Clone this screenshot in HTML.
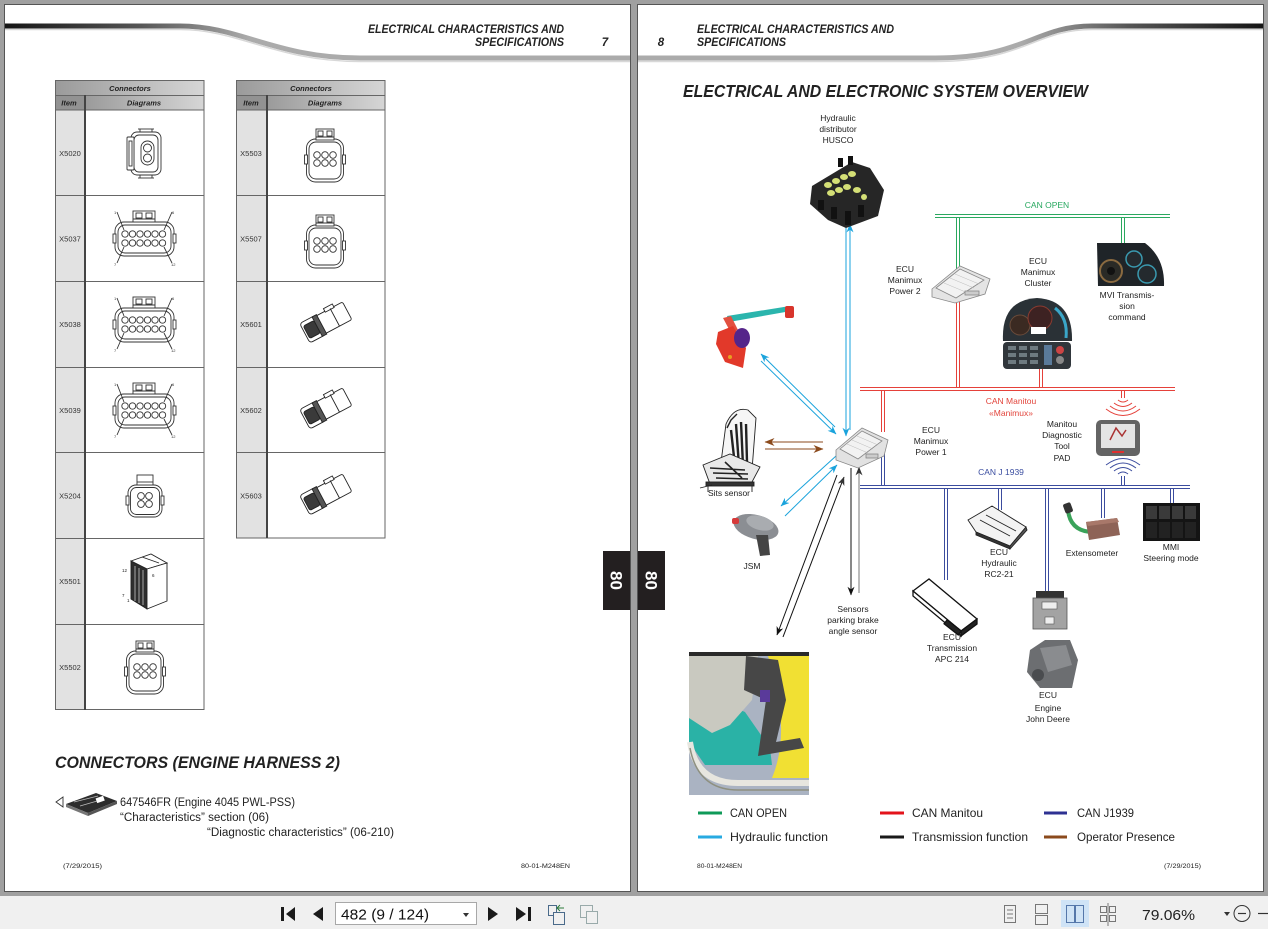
<!DOCTYPE html>
<html><head><meta charset="utf-8"><style>
html,body{margin:0;padding:0;width:1268px;height:929px;overflow:hidden;background:#a0a0a0}
svg{display:block}
text{font-family:"Liberation Sans",sans-serif}
.n{font-family:"Liberation Sans Narrow","Liberation Sans",sans-serif}
</style></head><body>
<svg width="1268" height="929" viewBox="0 0 1268 929" xmlns="http://www.w3.org/2000/svg">
<defs>
<linearGradient id="sw1" gradientUnits="userSpaceOnUse" x1="5" y1="0" x2="250" y2="0"><stop offset="0" stop-color="#151515"/><stop offset="0.55" stop-color="#555"/><stop offset="1" stop-color="#ababab"/></linearGradient>
<linearGradient id="sw2" gradientUnits="userSpaceOnUse" x1="1263" y1="0" x2="1020" y2="0"><stop offset="0" stop-color="#151515"/><stop offset="0.55" stop-color="#555"/><stop offset="1" stop-color="#ababab"/></linearGradient>
<linearGradient id="hd" x1="0" y1="0" x2="1" y2="0"><stop offset="0" stop-color="#9a9a9a"/><stop offset="1" stop-color="#d6d6d6"/></linearGradient>
<marker id="aC" viewBox="0 0 10 8" refX="9.5" refY="4" markerWidth="9" markerHeight="7" markerUnits="userSpaceOnUse" orient="auto"><path d="M0,0 L10,4 L0,8 L3,4z" fill="#1aa3dc"/></marker>
<marker id="aK" viewBox="0 0 10 8" refX="9.5" refY="4" markerWidth="9" markerHeight="7" markerUnits="userSpaceOnUse" orient="auto"><path d="M0,0 L10,4 L0,8 L3,4z" fill="#111"/></marker>
<marker id="aG" viewBox="0 0 10 8" refX="9.5" refY="4" markerWidth="9" markerHeight="7" markerUnits="userSpaceOnUse" orient="auto"><path d="M0,0 L10,4 L0,8 L3,4z" fill="#333"/></marker>
<marker id="aB" viewBox="0 0 10 8" refX="9.5" refY="4" markerWidth="10" markerHeight="8" markerUnits="userSpaceOnUse" orient="auto"><path d="M0,0 L10,4 L0,8 L3,4z" fill="#8b4a1c"/></marker>

<g id="c12" stroke="#333" stroke-width="0.9" fill="none">
 <rect x="-29" y="-16" width="59" height="34" rx="9" fill="#fff"/>
 <rect x="-26" y="-13" width="53" height="28" rx="7"/>
 <rect x="-31" y="-4" width="3" height="9" fill="#fff"/><rect x="29" y="-4" width="3" height="9" fill="#fff"/>
 <rect x="-11" y="-27" width="22" height="11" fill="#fff"/>
 <rect x="-8" y="-25" width="6" height="5"/><rect x="2" y="-25" width="6" height="5"/>
 <line x1="-11" y1="-19" x2="11" y2="-19"/>
 <circle cx="-19" cy="-4" r="3.2"/><circle cx="-11.5" cy="-4" r="3.2"/><circle cx="-4" cy="-4" r="3.2"/><circle cx="3.5" cy="-4" r="3.2"/><circle cx="11" cy="-4" r="3.2"/><circle cx="18.5" cy="-4" r="3.2"/>
 <circle cx="-19" cy="5" r="3.2"/><circle cx="-11.5" cy="5" r="3.2"/><circle cx="-4" cy="5" r="3.2"/><circle cx="3.5" cy="5" r="3.2"/><circle cx="11" cy="5" r="3.2"/><circle cx="18.5" cy="5" r="3.2"/>
 <line x1="-27" y1="-26" x2="-20" y2="-8"/><line x1="28" y1="-26" x2="20" y2="-8"/>
 <line x1="-27" y1="25" x2="-20" y2="9"/><line x1="28" y1="25" x2="20" y2="9"/>
</g>
<g id="c6" stroke="#333" stroke-width="0.9" fill="none">
 <rect x="-18.5" y="-19" width="37" height="43" rx="9" fill="#fff"/>
 <rect x="-16" y="-16" width="32" height="37" rx="7"/>
 <rect x="-20.5" y="-3" width="3" height="9" fill="#fff"/><rect x="17.5" y="-3" width="3" height="9" fill="#fff"/>
 <rect x="-9" y="-29" width="18" height="11" fill="#fff"/>
 <rect x="-7" y="-27" width="5" height="5"/><rect x="2" y="-27" width="5" height="5"/>
 <line x1="-9" y1="-21" x2="9" y2="-21"/>
 <circle cx="-8" cy="-3" r="3.3"/><circle cx="0" cy="-3" r="3.3"/><circle cx="8" cy="-3" r="3.3"/>
 <circle cx="-8" cy="5" r="3.3"/><circle cx="0" cy="5" r="3.3"/><circle cx="8" cy="5" r="3.3"/>
</g>
<g id="plug" stroke="#222" stroke-width="0.9">
 <g transform="rotate(-28)">
 <rect x="-6" y="-10" width="30" height="20" rx="2" fill="#fff"/>
 <rect x="4" y="-13" width="10" height="4" fill="#fff"/>
 <rect x="-24" y="-11" width="18" height="22" rx="3" fill="#fff"/>
 <rect x="-22" y="-7" width="12" height="14" rx="2" fill="#3a3a3a"/>
 <rect x="-10" y="-11" width="5" height="22" fill="#555"/>
 <line x1="10" y1="-10" x2="10" y2="10"/>
 </g>
</g>
</defs>

<!-- pages -->
<rect x="4.5" y="4.5" width="626" height="887" fill="#fff" stroke="#555"/>
<rect x="637.5" y="4.5" width="626" height="887" fill="#fff" stroke="#555"/>

<!-- header swoosh -->
<path d="M5,26 L180,26 C240,26 275,58 360,58 L630,58" fill="none" stroke="url(#sw1)" stroke-width="5"/>
<path d="M5,29.5 L180,29.5 C240,29.5 275,61.5 360,61.5 L630,61.5" fill="none" stroke="#d8d8d8" stroke-width="1.5"/>
<path d="M638,58 L935,58 C1025,58 1035,26 1092,26 L1263,26" fill="none" stroke="url(#sw2)" stroke-width="5"/>
<path d="M638,61.5 L935,61.5 C1025,61.5 1035,29.5 1092,29.5 L1263,29.5" fill="none" stroke="#d8d8d8" stroke-width="1.5"/>

<g font-weight="bold" font-style="italic" font-size="11.5" fill="#222" class="n">
<text class="n" x="368" y="33" textLength="196" lengthAdjust="spacingAndGlyphs">ELECTRICAL CHARACTERISTICS AND</text>
<text class="n" x="475" y="46" textLength="89" lengthAdjust="spacingAndGlyphs">SPECIFICATIONS</text>
<text class="n" x="605" y="46" text-anchor="middle">7</text>
<text class="n" x="661" y="46" text-anchor="middle">8</text>
<text class="n" x="697" y="33" textLength="197" lengthAdjust="spacingAndGlyphs">ELECTRICAL CHARACTERISTICS AND</text>
<text class="n" x="697" y="46" textLength="89" lengthAdjust="spacingAndGlyphs">SPECIFICATIONS</text>
</g>

<!-- LEFT TABLE -->
<g>
<rect x="55" y="80" width="149" height="15" fill="url(#hd)"/>
<rect x="55" y="95" width="29" height="15" fill="#929292"/>
<rect x="84" y="95" width="120" height="15" fill="url(#hd)"/>
<rect x="55" y="110" width="29" height="600" fill="#e2e2e2"/>
<g stroke="#666" stroke-width="1" fill="none">
<rect x="55.5" y="80.5" width="148.5" height="629"/>
<line x1="55" y1="95.5" x2="204" y2="95.5"/>
<line x1="55" y1="110" x2="204" y2="110"/>
<line x1="55" y1="195.5" x2="204" y2="195.5"/>
<line x1="55" y1="281.5" x2="204" y2="281.5"/>
<line x1="55" y1="367.5" x2="204" y2="367.5"/>
<line x1="55" y1="452.5" x2="204" y2="452.5"/>
<line x1="55" y1="538.5" x2="204" y2="538.5"/>
<line x1="55" y1="624.5" x2="204" y2="624.5"/>
</g>
<line x1="85" y1="95" x2="85" y2="710" stroke="#444" stroke-width="2"/>
<g font-size="7.5" font-weight="bold" font-style="italic" fill="#222" text-anchor="middle">
<text x="130" y="91">Connectors</text><text x="69" y="105.5">Item</text><text x="144" y="105.5">Diagrams</text>
</g>
<g font-size="7.5" fill="#333" text-anchor="middle">
<text x="70" y="156">X5020</text><text x="70" y="241.5">X5037</text><text x="70" y="327">X5038</text><text x="70" y="413">X5039</text><text x="70" y="498.5">X5204</text><text x="70" y="584">X5501</text><text x="70" y="670">X5502</text>
</g>
</g>

<!-- RIGHT TABLE -->
<g>
<rect x="236" y="80" width="149" height="15" fill="url(#hd)"/>
<rect x="236" y="95" width="30" height="15" fill="#929292"/>
<rect x="266" y="95" width="119" height="15" fill="url(#hd)"/>
<rect x="236" y="110" width="30" height="428" fill="#e2e2e2"/>
<g stroke="#666" stroke-width="1" fill="none">
<rect x="236.5" y="80.5" width="148.5" height="457.5"/>
<line x1="236" y1="95.5" x2="385" y2="95.5"/>
<line x1="236" y1="110" x2="385" y2="110"/>
<line x1="236" y1="195.5" x2="385" y2="195.5"/>
<line x1="236" y1="281.5" x2="385" y2="281.5"/>
<line x1="236" y1="367.5" x2="385" y2="367.5"/>
<line x1="236" y1="452.5" x2="385" y2="452.5"/>
</g>
<line x1="267" y1="95" x2="267" y2="538" stroke="#444" stroke-width="2"/>
<g font-size="7.5" font-weight="bold" font-style="italic" fill="#222" text-anchor="middle">
<text x="311" y="91">Connectors</text><text x="251" y="105.5">Item</text><text x="325" y="105.5">Diagrams</text>
</g>
<g font-size="7.5" fill="#333" text-anchor="middle">
<text x="251" y="156">X5503</text><text x="251" y="241.5">X5507</text><text x="251" y="327">X5601</text><text x="251" y="413">X5602</text><text x="251" y="498.5">X5603</text>
</g>
</g>

<!-- connector drawings -->
<g stroke="#333" stroke-width="0.9" fill="none">
 <rect x="131" y="132" width="30" height="43" rx="6" fill="#fff"/>
 <rect x="134" y="135" width="24" height="37" rx="5"/>
 <rect x="127" y="137" width="7" height="33" rx="1" fill="#fff"/>
 <rect x="129" y="141" width="3" height="25"/>
 <rect x="141" y="141" width="13" height="24" rx="6.5"/>
 <circle cx="147.5" cy="148" r="4"/><circle cx="147.5" cy="158" r="4"/>
 <line x1="138" y1="129" x2="154" y2="129"/><line x1="138" y1="178" x2="154" y2="178"/>
 <line x1="140" y1="129" x2="140" y2="132"/><line x1="152" y1="129" x2="152" y2="132"/>
 <line x1="140" y1="175" x2="140" y2="178"/><line x1="152" y1="175" x2="152" y2="178"/>
</g>
<use href="#c12" x="144" y="238"/>
<use href="#c12" x="144" y="324"/>
<use href="#c12" x="144" y="410"/>
<g font-size="4" fill="#333">
<text x="114" y="214">1</text><text x="172" y="214">6</text><text x="114" y="266">7</text><text x="171" y="266">12</text>
<text x="114" y="300">1</text><text x="172" y="300">6</text><text x="114" y="352">7</text><text x="171" y="352">12</text>
<text x="114" y="386">1</text><text x="172" y="386">6</text><text x="114" y="438">7</text><text x="171" y="438">12</text>
</g>
<g transform="translate(145,497)" stroke="#333" stroke-width="0.9" fill="none">
 <rect x="-17" y="-12" width="34" height="32" rx="8" fill="#fff"/>
 <rect x="-14.5" y="-9.5" width="29" height="27" rx="6"/>
 <rect x="-19" y="-1" width="3" height="9" fill="#fff"/><rect x="16" y="-1" width="3" height="9" fill="#fff"/>
 <rect x="-8" y="-22" width="16" height="10" fill="#fff"/>
 <line x1="-8" y1="-15" x2="8" y2="-15"/>
 <circle cx="-4" cy="-1" r="3.4"/><circle cx="4" cy="-1" r="3.4"/><circle cx="-4" cy="7" r="3.4"/><circle cx="4" cy="7" r="3.4"/>
</g>
<g transform="translate(145,581)" stroke="#222" stroke-width="0.9">
 <polygon points="-14,-20 6,-27 22,-18 2,-12" fill="#fff"/>
 <polygon points="-14,-20 2,-12 2,28 -14,18" fill="#2e2e2e"/>
 <polygon points="2,-12 22,-18 22,20 2,28" fill="#fff"/>
 <g stroke="#ddd" stroke-width="0.7"><line x1="-10" y1="-15" x2="-10" y2="20"/><line x1="-6" y1="-13" x2="-6" y2="22"/><line x1="-2" y1="-11" x2="-2" y2="24"/></g>
 <line x1="-3" y1="-24" x2="14" y2="-18" stroke="#222"/>
</g>
<g font-size="4.5" fill="#222"><text x="122" y="572">12</text><text x="152" y="577">6</text><text x="122" y="597">7</text><text x="127" y="602">1</text></g>
<use href="#c6" x="145" y="670"/>

<use href="#c6" x="325" y="158"/>
<use href="#c6" x="325" y="244"/>
<use href="#plug" x="326" y="322"/>
<use href="#plug" x="326" y="408"/>
<use href="#plug" x="326" y="494"/>

<!-- tabs 80 -->
<rect x="603" y="551" width="27" height="59" fill="#231f20"/>
<rect x="638" y="551" width="27" height="59" fill="#231f20"/>
<text transform="translate(616.5,580.5) rotate(90)" text-anchor="middle" y="6" font-size="17" font-weight="bold" fill="#fff">80</text>
<text transform="translate(651.5,580.5) rotate(90)" text-anchor="middle" y="6" font-size="17" font-weight="bold" fill="#fff">80</text>

<!-- left bottom -->
<text class="n" x="55" y="768" font-size="17" font-weight="bold" font-style="italic" fill="#222" textLength="285" lengthAdjust="spacingAndGlyphs">CONNECTORS (ENGINE HARNESS 2)</text>
<g>
 <polygon points="56,802 63,797 63,807" fill="#fff" stroke="#333" stroke-width="0.9"/>
 <polygon points="66,804 96,793 117,801 88,813" fill="#2d2d2d"/>
 <polygon points="66,804 88,813 88,816 66,807" fill="#777"/>
 <polygon points="88,813 117,801 117,804 88,816" fill="#555"/>
 <line x1="74" y1="802" x2="98" y2="796" stroke="#bbb" stroke-width="0.8"/>
 <line x1="80" y1="806" x2="104" y2="799" stroke="#bbb" stroke-width="0.8"/>
 <rect x="96" y="797" width="8" height="5" fill="#fff" transform="rotate(-20 100 799)"/>
</g>
<g class="n" font-size="11.5" fill="#222">
<text class="n" x="120" y="806" textLength="175" lengthAdjust="spacingAndGlyphs">647546FR (Engine 4045 PWL-PSS)</text>
<text class="n" x="120" y="821" textLength="149" lengthAdjust="spacingAndGlyphs">“Characteristics” section (06)</text>
<text class="n" x="207" y="836" textLength="187" lengthAdjust="spacingAndGlyphs">“Diagnostic characteristics” (06-210)</text>
</g>
<g font-size="6.5" fill="#222">
<text x="63" y="868" textLength="39" lengthAdjust="spacingAndGlyphs">(7/29/2015)</text>
<text x="521" y="868" textLength="49" lengthAdjust="spacingAndGlyphs">80-01-M248EN</text>
<text x="697" y="868" textLength="45" lengthAdjust="spacingAndGlyphs">80-01-M248EN</text>
<text x="1164" y="868" textLength="37" lengthAdjust="spacingAndGlyphs">(7/29/2015)</text>
</g>

<!-- RIGHT PAGE TITLE -->
<text class="n" x="683" y="97" font-size="17.5" font-weight="bold" font-style="italic" fill="#222" textLength="405" lengthAdjust="spacingAndGlyphs">ELECTRICAL AND ELECTRONIC SYSTEM OVERVIEW</text>

<!-- BUS LINES -->
<g stroke="#2aa85f" stroke-width="1" fill="none">
<line x1="935" y1="214.5" x2="1170" y2="214.5"/><line x1="935" y1="217.5" x2="1170" y2="217.5"/>
<line x1="956.5" y1="217" x2="956.5" y2="270"/><line x1="959.5" y1="217" x2="959.5" y2="270"/>
<line x1="1121.5" y1="217" x2="1121.5" y2="244"/><line x1="1124.5" y1="217" x2="1124.5" y2="244"/>
</g>
<g stroke="#e5413a" stroke-width="1" fill="none">
<line x1="860" y1="387.5" x2="1175" y2="387.5"/><line x1="860" y1="390.5" x2="1175" y2="390.5"/>
<line x1="956.5" y1="300" x2="956.5" y2="388"/><line x1="959.5" y1="300" x2="959.5" y2="388"/>
<line x1="1039.5" y1="368" x2="1039.5" y2="388"/><line x1="1042.5" y1="368" x2="1042.5" y2="388"/>
<line x1="881.5" y1="390" x2="881.5" y2="432"/><line x1="884.5" y1="390" x2="884.5" y2="432"/>
<line x1="1121.5" y1="390" x2="1121.5" y2="398"/><line x1="1124.5" y1="390" x2="1124.5" y2="398"/>
<path d="M1118,400 Q1123,404 1128,400"/>
<path d="M1114,403 Q1123,410 1132,403"/>
<path d="M1110,406 Q1123,416 1136,406"/>
<path d="M1106,409 Q1123,422 1140,409"/>
</g>
<g stroke="#3b4c9e" stroke-width="1" fill="none">
<line x1="860" y1="485.5" x2="1190" y2="485.5"/><line x1="860" y1="488.5" x2="1190" y2="488.5"/>
<line x1="881.5" y1="445" x2="881.5" y2="486"/><line x1="884.5" y1="445" x2="884.5" y2="486"/>
<line x1="944.5" y1="488" x2="944.5" y2="580"/><line x1="947.5" y1="488" x2="947.5" y2="580"/>
<line x1="998.5" y1="488" x2="998.5" y2="510"/><line x1="1001.5" y1="488" x2="1001.5" y2="510"/>
<line x1="1045.5" y1="488" x2="1045.5" y2="600"/><line x1="1048.5" y1="488" x2="1048.5" y2="600"/>
<line x1="1101.5" y1="488" x2="1101.5" y2="518"/><line x1="1104.5" y1="488" x2="1104.5" y2="518"/>
<line x1="1170.5" y1="488" x2="1170.5" y2="506"/><line x1="1173.5" y1="488" x2="1173.5" y2="506"/>
<line x1="1121.5" y1="476" x2="1121.5" y2="486"/><line x1="1124.5" y1="476" x2="1124.5" y2="486"/>
<path d="M1118,474 Q1123,470 1128,474"/>
<path d="M1114,471 Q1123,464 1132,471"/>
<path d="M1110,468 Q1123,458 1136,468"/>
<path d="M1106,465 Q1123,452 1140,465"/>
</g>

<!-- FUNCTION ARROWS -->
<g stroke-width="1" fill="none">
<line x1="850" y1="430" x2="850" y2="224" stroke="#1aa3dc" marker-end="url(#aC)"/>
<line x1="846" y1="226" x2="846" y2="436" stroke="#1aa3dc" marker-end="url(#aC)"/>
<line x1="835" y1="427" x2="761" y2="354" stroke="#1aa3dc" marker-end="url(#aC)"/>
<line x1="761" y1="361" x2="836" y2="434" stroke="#1aa3dc" marker-end="url(#aC)"/>
<line x1="836" y1="456" x2="781" y2="506" stroke="#1aa3dc" marker-end="url(#aC)"/>
<line x1="785" y1="516" x2="837" y2="465" stroke="#1aa3dc" marker-end="url(#aC)"/>
<line x1="823" y1="442" x2="765" y2="442" stroke="#8b4a1c" marker-end="url(#aB)"/>
<line x1="765" y1="449" x2="823" y2="449" stroke="#8b4a1c" marker-end="url(#aB)"/>
<line x1="837" y1="475" x2="777" y2="635" stroke="#111" marker-end="url(#aK)"/>
<line x1="783" y1="637" x2="844" y2="477" stroke="#111" marker-end="url(#aG)"/>
<line x1="851" y1="468" x2="851" y2="595" stroke="#111" marker-end="url(#aK)"/>
<line x1="859" y1="593" x2="859" y2="467" stroke="#777" marker-end="url(#aG)"/>
</g>

<!-- IMAGES -->
<!-- HUSCO -->
<g>
<polygon points="812,186 852,162 870,168 884,190 878,216 846,228 828,220 810,204" fill="#262626"/>
<g fill="#d4df76"><ellipse cx="828" cy="185" rx="4" ry="3"/><ellipse cx="836" cy="181" rx="4" ry="3"/><ellipse cx="844" cy="177" rx="4" ry="3"/><ellipse cx="852" cy="174" rx="4" ry="3"/><ellipse cx="831" cy="193" rx="4" ry="3"/><ellipse cx="839" cy="190" rx="4" ry="3"/><ellipse cx="847" cy="187" rx="4" ry="3"/><ellipse cx="857" cy="190" rx="4" ry="3"/><ellipse cx="864" cy="197" rx="3" ry="3"/></g>
<g fill="#111"><rect x="818" y="200" width="6" height="10"/><rect x="831" y="207" width="6" height="12"/><rect x="845" y="211" width="6" height="14"/><rect x="858" y="205" width="6" height="12"/><rect x="838" y="158" width="5" height="9"/><rect x="848" y="156" width="5" height="9"/></g>
</g>
<!-- ECU Power 2 -->
<g stroke="#888" stroke-width="0.8">
<polygon points="932,289 960,266 990,279 985,294 955,303 932,297" fill="#e4e4e4"/>
<polygon points="936,288 960,269 984,280 956,298" fill="#f2f2f2"/>
<g stroke="#bbb" stroke-width="0.5"><line x1="944" y1="283" x2="968" y2="293"/><line x1="950" y1="278" x2="974" y2="288"/><line x1="955" y1="274" x2="979" y2="284"/></g>
<rect x="965" y="291" width="14" height="4" fill="#ccc"/>
</g>
<!-- Cluster -->
<g>
<path d="M1003,341 Q1001,300 1037,298 Q1073,300 1072,341 Z" fill="#2a3136"/>
<circle cx="1020" cy="325" r="10" fill="#3b2a22" stroke="#6a4b3a"/>
<circle cx="1040" cy="318" r="12" fill="#3d2222" stroke="#8a3b30"/>
<path d="M1055,308 Q1068,318 1066,338" stroke="#3aa6c8" stroke-width="3" fill="none"/>
<rect x="1031" y="327" width="15" height="7" fill="#fff"/>
<rect x="1003" y="342" width="68" height="27" rx="4" fill="#30363b"/>
<g fill="#6e7a80"><rect x="1008" y="346" width="8" height="4"/><rect x="1019" y="346" width="8" height="4"/><rect x="1030" y="346" width="8" height="4"/><rect x="1008" y="353" width="8" height="4"/><rect x="1019" y="353" width="8" height="4"/><rect x="1030" y="353" width="8" height="4"/><rect x="1008" y="360" width="8" height="4"/><rect x="1019" y="360" width="8" height="4"/><rect x="1030" y="360" width="8" height="4"/></g>
<rect x="1044" y="345" width="8" height="20" fill="#5a7a9a"/><circle cx="1060" cy="350" r="4" fill="#c44"/><circle cx="1060" cy="360" r="4" fill="#888"/>
</g>
<!-- MVI -->
<g>
<path d="M1097,243 L1145,243 Q1165,258 1164,286 L1098,286 Z" fill="#1f2428"/>
<circle cx="1111" cy="271" r="11" fill="#2a2a26" stroke="#8a6a40" stroke-width="2"/>
<circle cx="1111" cy="271" r="4" fill="#111"/>
<circle cx="1134" cy="259" r="8" fill="#242a2e" stroke="#3a9ab0" stroke-width="1.5"/>
<circle cx="1147" cy="274" r="9" fill="#242a2e" stroke="#3a9ab0" stroke-width="1.5"/>
</g>
<!-- Arm -->
<g>
<polygon points="727,316 790,306 791,311 729,322" fill="#2bb5ad"/>
<rect x="785" y="306" width="9" height="12" rx="2" fill="#d8352c"/>
<polygon points="723,318 731,316 738,330 731,333" fill="#e25040"/>
<polygon points="718,332 733,326 746,348 743,368 725,362 716,344" fill="#e2392a"/>
<ellipse cx="742" cy="338" rx="8" ry="10" fill="#55258a"/>
<circle cx="730" cy="357" r="2" fill="#e8a020"/>
</g>
<!-- Seat -->
<g stroke="#222" stroke-width="0.9">
<path d="M720,470 L726,424 Q734,406 748,410 L756,418 L752,470 Z" fill="#f6f6f6"/>
<path d="M731,430 L735,466 M736,424 L739,466 M741,422 L743,466 M746,424 L747,462" stroke="#222" stroke-width="2.4"/>
<path d="M727,428 L731,420 L737,414" stroke="#222" stroke-width="1.4" fill="none"/>
<polygon points="703,465 730,454 760,467 752,482 710,484" fill="#e8e8e8"/>
<path d="M710,468 L745,470 M713,473 L748,474 M716,478 L748,479 M725,462 L742,478" stroke="#222" stroke-width="1.6"/>
<rect x="706" y="482" width="48" height="4" fill="#333"/>
<line x1="708" y1="486" x2="708" y2="492"/><line x1="752" y1="486" x2="752" y2="492"/><line x1="700" y1="488" x2="712" y2="485"/>
</g>
<!-- ECU Power 1 -->
<g stroke="#888" stroke-width="0.8">
<polygon points="836,450 862,428 888,440 884,456 858,468 836,460" fill="#e2e2e2"/>
<polygon points="840,449 862,431 882,441 858,459" fill="#f2f2f2"/>
<g stroke="#bbb" stroke-width="0.5"><line x1="847" y1="444" x2="868" y2="453"/><line x1="852" y1="440" x2="873" y2="449"/><line x1="857" y1="436" x2="878" y2="445"/></g>
<rect x="866" y="454" width="12" height="4" fill="#ccc"/>
</g>
<!-- JSM -->
<g>
<ellipse cx="756" cy="527" rx="23" ry="12" transform="rotate(15 756 527)" fill="#8b8e93"/>
<ellipse cx="760" cy="523" rx="14" ry="7" transform="rotate(15 760 523)" fill="#a9acb0"/>
<rect x="732" y="518" width="7" height="6" rx="2" fill="#d63a3a"/>
<path d="M756,535 L768,535 L770,555 L760,556 Z" fill="#444"/>
</g>
<!-- PAD -->
<g>
<rect x="1096" y="420" width="44" height="36" rx="5" fill="#646464"/>
<rect x="1101" y="424" width="34" height="24" fill="#e4e4e4"/>
<path d="M1110,440 L1116,428 L1122,436 L1126,430" stroke="#a33" stroke-width="1.5" fill="none"/>
<rect x="1112" y="451" width="12" height="2" fill="#e03030"/>
</g>
<!-- ECU Hydraulic -->
<g stroke="#222" stroke-width="0.9">
<polygon points="968,520 992,506 1026,527 1010,546 976,532" fill="#f3f3f3"/>
<polygon points="976,532 1010,546 1010,549 976,535" fill="#333"/>
<polygon points="1010,546 1026,527 1027,530 1010,549" fill="#555"/>
<line x1="980" y1="520" x2="1010" y2="536"/><line x1="986" y1="515" x2="1016" y2="531"/>
</g>
<!-- Extensometer -->
<g>
<path d="M1068,510 Q1070,530 1090,532" stroke="#3aa35a" stroke-width="4" fill="none"/>
<rect x="1064" y="503" width="8" height="10" rx="2" fill="#333" transform="rotate(-20 1068 508)"/>
<polygon points="1086,522 1117,518 1120,535 1089,540" fill="#8e6357"/>
<polygon points="1086,522 1117,518 1119,522 1088,526" fill="#a8786a"/>
</g>
<!-- MMI -->
<g>
<rect x="1143" y="503" width="57" height="38" fill="#141414"/>
<g fill="#3a3a3a"><rect x="1146" y="506" width="11" height="13"/><rect x="1159" y="506" width="11" height="13"/><rect x="1172" y="506" width="11" height="13"/><rect x="1185" y="506" width="11" height="13"/></g>
<g fill="#222"><rect x="1146" y="522" width="11" height="16"/><rect x="1159" y="522" width="11" height="16"/><rect x="1172" y="522" width="11" height="16"/><rect x="1185" y="522" width="11" height="16"/></g>
</g>
<!-- Transmission -->
<g stroke="#111" stroke-width="1.3">
<polygon points="913,591 929,579 977,619 961,631" fill="#fff"/>
<polygon points="913,591 961,631 961,636 913,596" fill="#fff"/>
<polygon points="961,631 977,619 977,624 961,636" fill="#222"/>
<rect x="944" y="625" width="18" height="5" fill="#222" transform="rotate(38 953 627)"/>
</g>
<!-- ECU Engine -->
<g>
<rect x="1036" y="591" width="28" height="8" fill="#333"/>
<rect x="1033" y="598" width="34" height="31" fill="#a3a3a3" stroke="#555" stroke-width="0.8"/>
<rect x="1042" y="602" width="15" height="7" fill="#eee" stroke="#555" stroke-width="0.6"/>
<rect x="1045" y="617" width="9" height="7" fill="#eee" stroke="#555" stroke-width="0.6"/>
<polygon points="1030,650 1045,640 1070,640 1078,660 1072,688 1040,688 1027,672" fill="#6c6e71"/>
<polygon points="1040,648 1066,645 1072,665 1048,672" fill="#8a8c8f"/>
<circle cx="1038" cy="675" r="6" fill="#4a4c4f"/>
</g>
<!-- Photo -->
<g>
<rect x="689" y="652" width="120" height="143" fill="#aab3c2"/>
<path d="M768,656 L809,654 L809,778 L772,778 Q792,730 768,656 Z" fill="#f1e033"/>
<polygon points="689,688 745,712 770,748 772,765 705,765 689,742" fill="#2ab2a6"/>
<polygon points="689,656 758,656 752,700 730,725 712,733 689,718" fill="#c9c9c0"/>
<polygon points="746,656 778,660 786,700 776,742 800,738 804,748 758,756 766,700 744,690" fill="#474747"/>
<rect x="760" y="690" width="10" height="12" fill="#5a3a9a"/>
<path d="M690,742 Q696,783 738,783 L809,783" stroke="#e7e6df" stroke-width="6" fill="none"/>
<path d="M690,748 Q698,790 738,790 L809,790" stroke="#8e9080" stroke-width="1.5" fill="none"/>
<rect x="689" y="652" width="120" height="4" fill="#2a2a2a"/>
</g>

<!-- DIAGRAM LABELS -->
<g font-size="8.5" fill="#222" text-anchor="middle">
<text x="838" y="121">Hydraulic</text><text x="838" y="132">distributor</text><text x="838" y="143">HUSCO</text>
<text x="905" y="272">ECU</text><text x="905" y="283">Manimux</text><text x="905" y="294">Power 2</text>
<text x="1038" y="264">ECU</text><text x="1038" y="275">Manimux</text><text x="1038" y="286">Cluster</text>
<text x="1127" y="298">MVI Transmis-</text><text x="1127" y="309">sion</text><text x="1127" y="320">command</text>
<text x="931" y="433">ECU</text><text x="931" y="444">Manimux</text><text x="931" y="455">Power 1</text>
<text x="1062" y="427">Manitou</text><text x="1062" y="438">Diagnostic</text><text x="1062" y="449">Tool</text><text x="1062" y="461">PAD</text>
<text x="729" y="496">Sits sensor</text>
<text x="752" y="569">JSM</text>
<text x="999" y="555">ECU</text><text x="999" y="566">Hydraulic</text><text x="999" y="577">RC2-21</text>
<text x="1092" y="556">Extensometer</text>
<text x="1171" y="550">MMI</text><text x="1171" y="561">Steering mode</text>
<text x="853" y="612">Sensors</text><text x="853" y="623">parking brake</text><text x="853" y="634">angle sensor</text>
<text x="952" y="640">ECU</text><text x="952" y="651">Transmission</text><text x="952" y="662">APC 214</text>
<text x="1048" y="698">ECU</text><text x="1048" y="711">Engine</text><text x="1048" y="722">John Deere</text>
<text x="1047" y="208" fill="#27a85f">CAN OPEN</text>
<text x="1011" y="404" fill="#e2453c">CAN Manitou</text><text x="1011" y="416" fill="#e2453c">«Manimux»</text>
<text x="1001" y="475" fill="#3a4da0">CAN J 1939</text>
</g>

<!-- LEGEND -->
<g stroke-width="3">
<line x1="698" y1="813" x2="722" y2="813" stroke="#0f9a58"/>
<line x1="880" y1="813" x2="904" y2="813" stroke="#e3131b"/>
<line x1="1044" y1="813" x2="1067" y2="813" stroke="#2e3192"/>
<line x1="698" y1="837" x2="722" y2="837" stroke="#27aae1"/>
<line x1="880" y1="837" x2="904" y2="837" stroke="#1a1a1a"/>
<line x1="1044" y1="837" x2="1067" y2="837" stroke="#8b4a1c"/>
</g>
<g font-size="12" fill="#222">
<text x="730" y="817" textLength="57" lengthAdjust="spacingAndGlyphs">CAN OPEN</text>
<text x="912" y="817" textLength="71" lengthAdjust="spacingAndGlyphs">CAN Manitou</text>
<text x="1077" y="817" textLength="57" lengthAdjust="spacingAndGlyphs">CAN J1939</text>
<text x="730" y="841" textLength="98" lengthAdjust="spacingAndGlyphs">Hydraulic function</text>
<text x="912" y="841" textLength="116" lengthAdjust="spacingAndGlyphs">Transmission function</text>
<text x="1077" y="841" textLength="98" lengthAdjust="spacingAndGlyphs">Operator Presence</text>
</g>

<!-- TOOLBAR -->
<rect x="0" y="896" width="1268" height="33" fill="#f0f0f0"/>
<g fill="#1a1a1a">
<rect x="281" y="907" width="3" height="14"/><polygon points="295,907 286,914 295,921"/>
<polygon points="323,907 313,914 323,921"/>
<polygon points="488,907 498,914 488,921"/>
<polygon points="516,907 526,914 516,921"/><rect x="528" y="907" width="3" height="14"/>
</g>
<rect x="335.5" y="902.5" width="141" height="22" fill="#fff" stroke="#a8a8a8"/>
<text x="341" y="919.5" font-size="14.5" fill="#111" textLength="88" lengthAdjust="spacingAndGlyphs">482 (9 / 124)</text>
<polygon points="463,913 469,913 466,917" fill="#333"/>
<g stroke="#4a6a8a" stroke-width="1" fill="none">
<rect x="548.5" y="905.5" width="8" height="10"/><rect x="553.5" y="912.5" width="11" height="12" fill="#f0f0f0"/>
<path d="M557,908 L564,908 M560,905 L557,908 L560,911" stroke="#2a7a3a"/>
</g>
<g stroke="#9aa" stroke-width="1" fill="none">
<rect x="580.5" y="905.5" width="12" height="12"/><rect x="586.5" y="911.5" width="11" height="12" fill="#f0f0f0"/>
</g>
<rect x="1061" y="900" width="28" height="27" fill="#cfe3f6"/>
<g stroke="#777" stroke-width="1" fill="none">
<rect x="1004.5" y="905.5" width="11" height="17"/><line x1="1007" y1="910" x2="1013" y2="910"/><line x1="1007" y1="914" x2="1013" y2="914"/><line x1="1007" y1="918" x2="1013" y2="918"/>
<rect x="1035.5" y="904.5" width="12" height="9"/><rect x="1035.5" y="915.5" width="12" height="9"/>
<rect x="1066.5" y="905.5" width="8" height="17" stroke="#5577aa"/><rect x="1075.5" y="905.5" width="8" height="17" stroke="#5577aa"/>
<line x1="1108" y1="903" x2="1108" y2="926"/><rect x="1100.5" y="906.5" width="6" height="6"/><rect x="1109.5" y="906.5" width="6" height="6"/><rect x="1100.5" y="915.5" width="6" height="6"/><rect x="1109.5" y="915.5" width="6" height="6"/>
</g>
<text x="1142" y="920" font-size="15" fill="#222" textLength="53" lengthAdjust="spacingAndGlyphs">79.06%</text>
<polygon points="1224,912 1230,912 1227,916" fill="#333"/>
<circle cx="1242" cy="913.5" r="8" fill="none" stroke="#333" stroke-width="1"/>
<line x1="1238" y1="913.5" x2="1246" y2="913.5" stroke="#333" stroke-width="1.2"/>
<line x1="1258" y1="913.5" x2="1268" y2="913.5" stroke="#333" stroke-width="1.2"/>
</svg>
</body></html>
